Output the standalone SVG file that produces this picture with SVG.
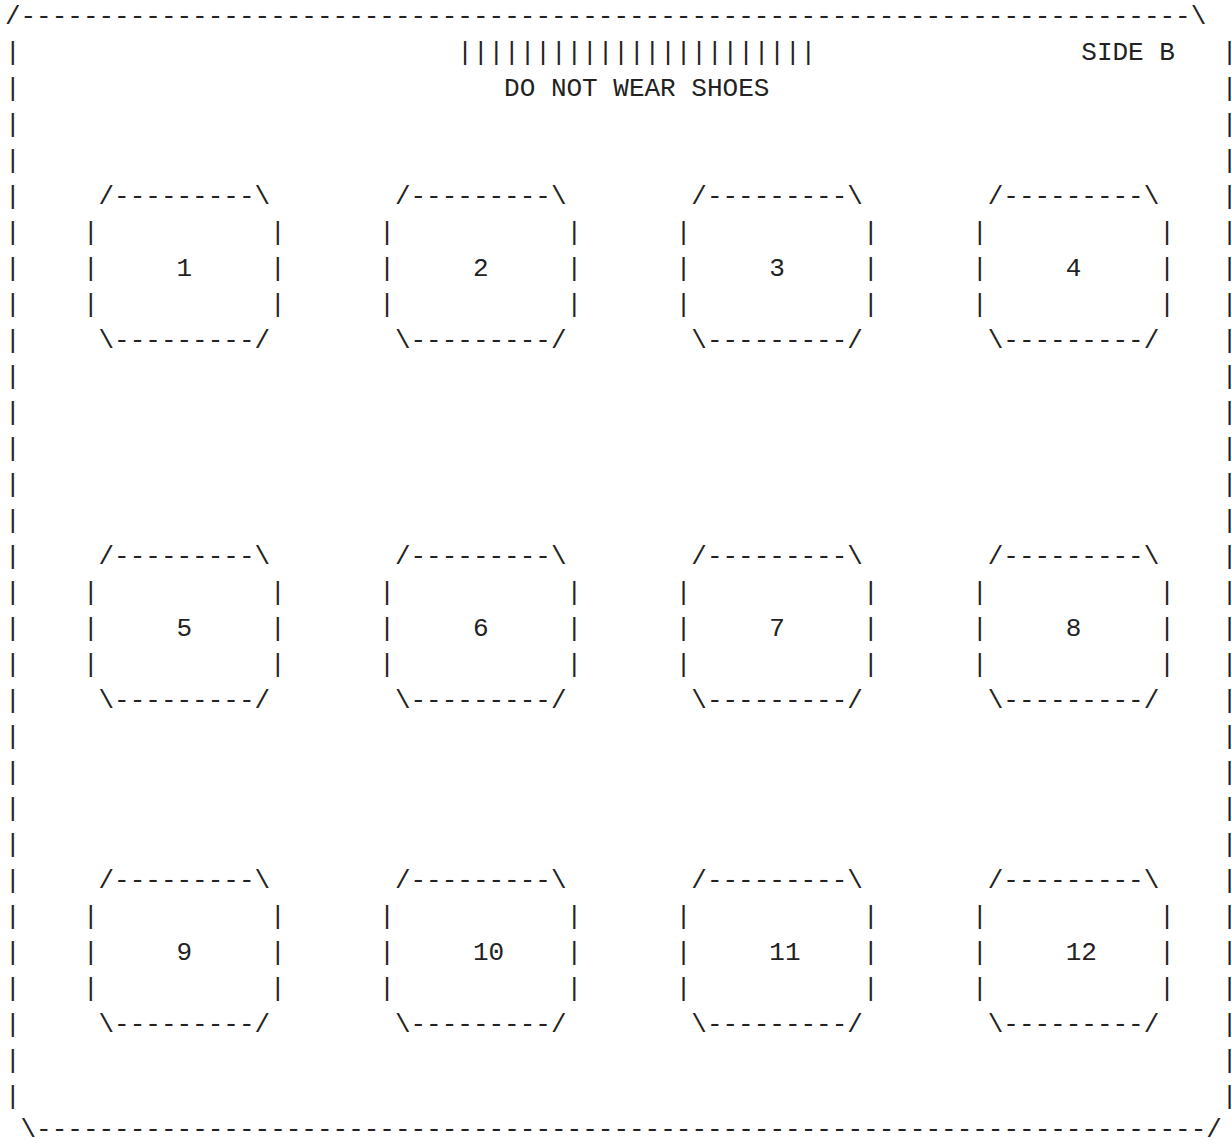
<svg xmlns="http://www.w3.org/2000/svg" xmlns:xlink="http://www.w3.org/1999/xlink" width="1231" height="1144" viewBox="0 0 1231 1144">
<style>
text { font-family: "Liberation Mono", "Courier New", monospace; font-size: 26px; fill: #222; white-space: pre; }
#right-wall text { letter-spacing: -8px; }
</style>
<defs>
<g id="box">
<text x="15.6" y="0">/---------\</text>
<text x="0" y="36">|</text><text x="187.2" y="36">|</text>
<text x="0" y="72">|</text><text x="187.2" y="72">|</text>
<text x="0" y="108">|</text><text x="187.2" y="108">|</text>
<text x="15.6" y="144">\---------/</text>
</g>
</defs>
<rect width="1231" height="1144" fill="#fff"/>
<g id="border">
<text x="4.9" y="24">/---------------------------------------------------------------------------\</text>
<text x="20.5" y="1137">\---------------------------------------------------------------------------/</text>
<g id="left-wall">
<text x="4.9" y="60">|</text><text x="4.9" y="96">|</text><text x="4.9" y="132">|</text><text x="4.9" y="168">|</text><text x="4.9" y="204">|</text>
<text x="4.9" y="240">|</text><text x="4.9" y="276">|</text><text x="4.9" y="312">|</text><text x="4.9" y="348">|</text><text x="4.9" y="384">|</text>
<text x="4.9" y="420">|</text><text x="4.9" y="456">|</text><text x="4.9" y="492">|</text><text x="4.9" y="528">|</text><text x="4.9" y="564">|</text>
<text x="4.9" y="600">|</text><text x="4.9" y="636">|</text><text x="4.9" y="672">|</text><text x="4.9" y="708">|</text><text x="4.9" y="744">|</text>
<text x="4.9" y="780">|</text><text x="4.9" y="816">|</text><text x="4.9" y="852">|</text><text x="4.9" y="888">|</text><text x="4.9" y="924">|</text>
<text x="4.9" y="960">|</text><text x="4.9" y="996">|</text><text x="4.9" y="1032">|</text><text x="4.9" y="1068">|</text><text x="4.9" y="1104">|</text>
</g>
<g id="right-wall">
<text x="1221.7" y="60">|</text><text x="1221.7" y="96">|</text><text x="1221.7" y="132">|</text><text x="1221.7" y="168">|</text><text x="1221.7" y="204">|</text>
<text x="1221.7" y="240">|</text><text x="1221.7" y="276">|</text><text x="1221.7" y="312">|</text><text x="1221.7" y="348">|</text><text x="1221.7" y="384">|</text>
<text x="1221.7" y="420">|</text><text x="1221.7" y="456">|</text><text x="1221.7" y="492">|</text><text x="1221.7" y="528">|</text><text x="1221.7" y="564">|</text>
<text x="1221.7" y="600">|</text><text x="1221.7" y="636">|</text><text x="1221.7" y="672">|</text><text x="1221.7" y="708">|</text><text x="1221.7" y="744">|</text>
<text x="1221.7" y="780">|</text><text x="1221.7" y="816">|</text><text x="1221.7" y="852">|</text><text x="1221.7" y="888">|</text><text x="1221.7" y="924">|</text>
<text x="1221.7" y="960">|</text><text x="1221.7" y="996">|</text><text x="1221.7" y="1032">|</text><text x="1221.7" y="1068">|</text><text x="1221.7" y="1104">|</text>
</g>
</g>
<g id="entrance">
<text x="457.3" y="60">|||||||||||||||||||||||</text>
<text x="504.1" y="96">DO NOT WEAR SHOES</text>
</g>
<g id="side-label">
<text x="1081.3" y="60">SIDE B</text>
</g>
<g id="box-1" transform="translate(82.9,204)"><use xlink:href="#box"/><text x="93.6" y="72">1</text></g>
<g id="box-2" transform="translate(379.3,204)"><use xlink:href="#box"/><text x="93.6" y="72">2</text></g>
<g id="box-3" transform="translate(675.7,204)"><use xlink:href="#box"/><text x="93.6" y="72">3</text></g>
<g id="box-4" transform="translate(972.1,204)"><use xlink:href="#box"/><text x="93.6" y="72">4</text></g>
<g id="box-5" transform="translate(82.9,564)"><use xlink:href="#box"/><text x="93.6" y="72">5</text></g>
<g id="box-6" transform="translate(379.3,564)"><use xlink:href="#box"/><text x="93.6" y="72">6</text></g>
<g id="box-7" transform="translate(675.7,564)"><use xlink:href="#box"/><text x="93.6" y="72">7</text></g>
<g id="box-8" transform="translate(972.1,564)"><use xlink:href="#box"/><text x="93.6" y="72">8</text></g>
<g id="box-9" transform="translate(82.9,888)"><use xlink:href="#box"/><text x="93.6" y="72">9</text></g>
<g id="box-10" transform="translate(379.3,888)"><use xlink:href="#box"/><text x="93.6" y="72">10</text></g>
<g id="box-11" transform="translate(675.7,888)"><use xlink:href="#box"/><text x="93.6" y="72">11</text></g>
<g id="box-12" transform="translate(972.1,888)"><use xlink:href="#box"/><text x="93.6" y="72">12</text></g>
</svg>
